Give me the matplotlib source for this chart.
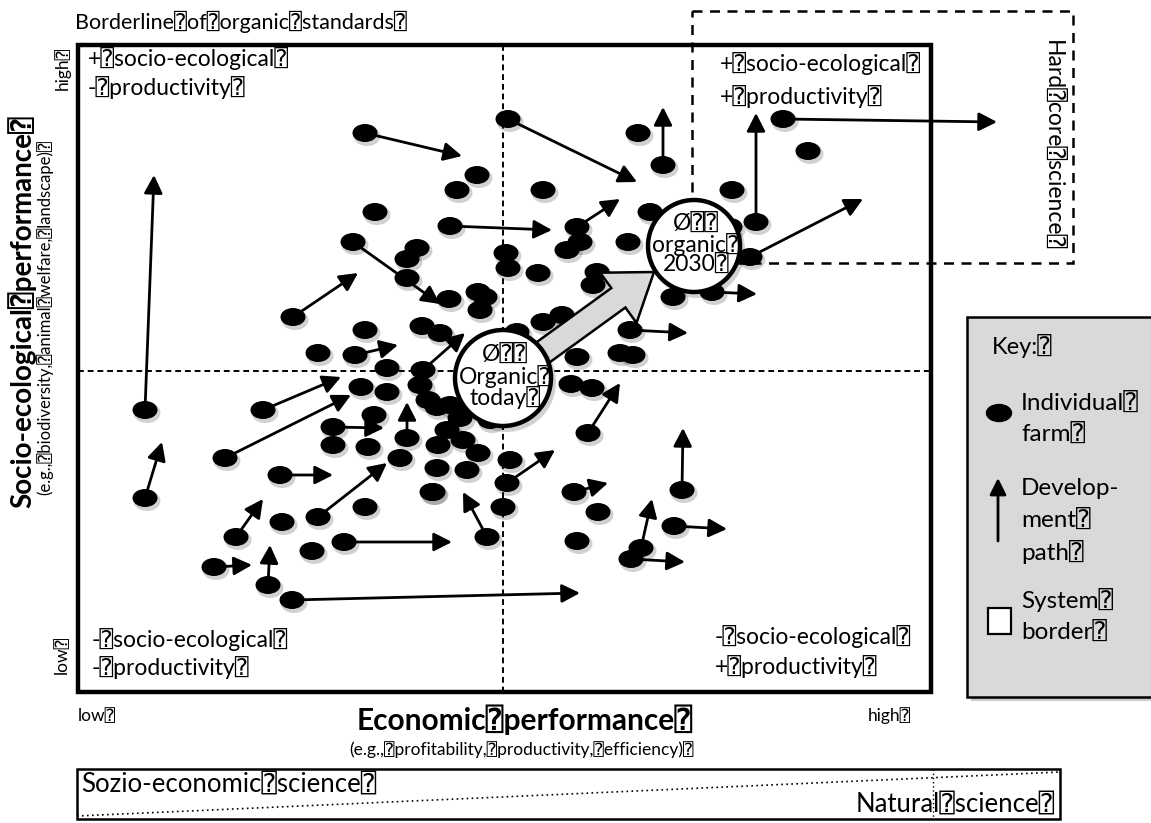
import matplotlib
matplotlib.use('Agg')
import matplotlib.pyplot as plt
from matplotlib.patches import Ellipse, Circle, Rectangle, FancyArrow

plt.rcParams['font.family'] = ['Lato', 'DejaVu Sans', 'DejaVu Sans Mono']

# ---------------- data (positions, pixel units) -------------
farm_x = [365, 375, 353, 293, 477, 457, 450, 417, 407, 407, 449, 478, 485, 480, 506, 508,
          365, 318, 355, 422, 440, 387, 423, 361, 387,
          145, 145, 263, 225, 374, 333, 333, 368, 407, 420, 428, 437, 450, 460,
          447, 463, 438, 478, 400, 437, 467, 432, 280, 318, 365, 282, 236, 433, 312, 344,
          214, 268, 292, 487, 503, 507, 510, 460, 490,
          508, 638, 663, 543, 577, 580, 567, 628, 650, 538, 597, 593, 673, 712,
          543, 562, 517, 630, 620, 633, 577, 783, 808, 732, 756, 730, 750,
          571, 592, 588, 574, 598, 577, 682, 674, 641, 631]
farm_y = [133, 212, 242, 317, 175, 190, 226, 248, 259, 278, 299, 292, 297, 310, 253, 268,
          330, 353, 355, 326, 333, 368, 370, 387, 392,
          410, 498, 410, 458, 415, 427, 445, 447, 438, 385, 400, 407, 405, 408,
          430, 440, 445, 453, 458, 468, 470, 492, 475, 517, 507, 522, 537, 492, 551, 542,
          567, 585, 600, 537, 507, 483, 460, 418, 420,
          119, 133, 165, 190, 227, 242, 250, 242, 212, 273, 272, 285, 297, 292,
          322, 315, 332, 330, 353, 355, 357, 119, 151, 190, 222, 227, 257,
          384, 388, 433, 492, 512, 541, 490, 526, 548, 559]

path_x0 = [365, 353, 293, 450, 355, 423, 145, 145, 263, 225, 333, 407, 280, 318, 236, 344,
           214, 268, 292, 487, 507, 508, 663, 577, 712, 630, 783, 756, 750,
           588, 574, 682, 674, 641, 631]
path_y0 = [133, 242, 317, 226, 355, 370, 410, 498, 410, 458, 427, 438, 475, 517, 537, 542,
           567, 585, 600, 537, 483, 119, 165, 227, 292, 330, 119, 222, 257,
           433, 492, 490, 526, 548, 559]
path_x1 = [462, 440, 358, 552, 398, 465, 154, 162, 341, 351, 384, 407, 333, 387, 263, 452,
           252, 270, 580, 463, 555, 637, 663, 620, 757, 688, 997, 756, 863,
           620, 608, 683, 727, 652, 685]
path_y1 = [156, 304, 273, 230, 345, 333, 175, 442, 377, 395, 428, 402, 475, 463, 499, 542,
           565, 545, 593, 492, 450, 182, 107, 199, 294, 333, 122, 113, 199,
           383, 483, 428, 529, 499, 562]

# ---------------- figure ----------------
W, H = 1151, 823
fig = plt.figure(figsize=(W / 100, H / 100), dpi=100)
ax = fig.add_axes([0, 0, 1, 1])
ax.set_xlim(0, W)
ax.set_ylim(H, 0)
ax.axis('off')

BOX = dict(left=78, right=931, top=45, bottom=692)
Q = '\u2370'

# main box
ax.add_patch(Rectangle((BOX['left'], BOX['top']), BOX['right'] - BOX['left'],
                       BOX['bottom'] - BOX['top'], fill=False, lw=3.2, ec='black', zorder=6))
ax.plot([503, 503], [BOX['top'], BOX['bottom']], ls=(0, (3, 2)), lw=1.4, color='black', zorder=1)
ax.plot([BOX['left'], BOX['right']], [371, 371], ls=(0, (3, 2)), lw=1.4, color='black', zorder=1)

# hard core science box
ax.add_patch(Rectangle((692, 11), 1073 - 692, 263 - 11, fill=False, lw=1.8,
                       ls=(0, (4, 3)), ec='black', zorder=1))
ax.text(1052, 145, f'Hard{Q}core{Q}science{Q}', rotation=-90, ha='center', va='center',
        fontsize=16.5)

# arrows (development paths)
for x0, y0, x1, y1 in zip(path_x0, path_y0, path_x1, path_y1):
    ax.annotate('', xy=(x1, y1), xytext=(x0, y0),
                arrowprops=dict(arrowstyle='-|>,head_length=0.55,head_width=0.28',
                                lw=2.0, color='black', shrinkA=0, shrinkB=0,
                                mutation_scale=20), zorder=2)

# farms
for x, y in zip(farm_x, farm_y):
    ax.add_patch(Ellipse((x + 2, y + 3), 27, 20, color='black', alpha=0.18, lw=0, zorder=3))
    ax.add_patch(Ellipse((x, y), 25, 18, color='black', lw=0, zorder=3.1))

# big arrow
ax.add_patch(FancyArrow(538, 356, 116, -84, width=24, head_width=62, head_length=44,
                        length_includes_head=True, fc='#d9d9d9', ec='black', lw=1.8, zorder=4))

# circles
for (cx, cy, r, label) in [(503, 378, 48, f'Ø{Q}{Q}\nOrganic{Q}\ntoday{Q}'),
                           (694, 246, 46, f'Ø{Q}{Q}\norganic{Q}\n2030{Q}')]:
    ax.add_patch(Circle((cx + 3, cy + 4), r + 2, color='black', alpha=0.18, lw=0, zorder=4.5))
    ax.add_patch(Circle((cx, cy), r, fc='white', ec='black', lw=3.2, zorder=5))
    ax.text(cx + 2, cy - 1, label, ha='center', va='center', multialignment='center',
            fontsize=16.5, linespacing=0.92, zorder=6)

# quadrant labels
qfs = 16.5
ax.text(88, 59, f'+{Q}socio-ecological{Q}', fontsize=qfs, va='center')
ax.text(88, 88, f'-{Q}productivity{Q}', fontsize=qfs, va='center')
ax.text(720, 64, f'+{Q}socio-ecological{Q}', fontsize=qfs, va='center')
ax.text(720, 97, f'+{Q}productivity{Q}', fontsize=qfs, va='center')
ax.text(92, 640, f'-{Q}socio-ecological{Q}', fontsize=qfs, va='center')
ax.text(92, 668, f'-{Q}productivity{Q}', fontsize=qfs, va='center')
ax.text(715, 637, f'-{Q}socio-ecological{Q}', fontsize=qfs, va='center')
ax.text(715, 667, f'+{Q}productivity{Q}', fontsize=qfs, va='center')

# titles / axes labels
ax.text(75, 22, f'Borderline{Q}of{Q}organic{Q}standards{Q}', fontsize=15.5, va='center')
ax.text(62, 68, f'high{Q}', rotation=90, fontsize=12.5, ha='center', va='center')
ax.text(62, 655, f'low{Q}', rotation=90, fontsize=12.5, ha='center', va='center')
ax.text(22, 312, f'Socio-ecological{Q}performance{Q}', rotation=90, fontsize=20,
        fontweight='bold', ha='center', va='center')
ax.text(45, 318, f'(e.g.,{Q}biodiversity,{Q}animal{Q}welfare,{Q}landscape){Q}', rotation=90,
        fontsize=12, ha='center', va='center')
ax.text(78, 716, f'low{Q}', fontsize=12.5, va='center')
ax.text(868, 716, f'high{Q}', fontsize=12.5, va='center')
ax.text(525, 720, f'Economic{Q}performance{Q}', fontsize=21.5, fontweight='bold',
        ha='center', va='center')
ax.text(522, 750, f'(e.g.,{Q}profitability,{Q}productivity,{Q}efficiency){Q}', fontsize=12.5,
        ha='center', va='center')

# bottom science box
BL, BR, BT, BB = 77, 1060, 769, 819
ax.add_patch(Rectangle((BL, BT), BR - BL, BB - BT, fill=False, lw=1.8, ec='black'))
ax.plot([BL, BR], [816, 772], ls=(0, (1, 2)), lw=1.2, color='black')
ax.plot([933, 933], [BT, BB], ls=(0, (1, 2)), lw=1.0, color='black')
ax.text(81, 784, f'Sozio-economic{Q}science{Q}', fontsize=18.5, va='center')
ax.text(1055, 804, f'Natural{Q}science{Q}', fontsize=18.5, va='center', ha='right')

# key box
ax.add_patch(Rectangle((971, 321), 200, 380, color='black', alpha=0.2, lw=0, zorder=1))
ax.add_patch(Rectangle((967, 317), 200, 380, fc='#d9d9d9', ec='black', lw=1.8, zorder=2))
ax.text(992, 346, f'Key:{Q}', fontsize=17, va='center', zorder=3)
ax.add_patch(Ellipse((999, 413), 25, 17, color='black', zorder=3))
ax.text(1021, 403, f'Individual{Q}', fontsize=17.5, va='center', zorder=3)
ax.text(1021, 434, f'farm{Q}', fontsize=17.5, va='center', zorder=3)
ax.annotate('', xy=(998, 478), xytext=(998, 541),
            arrowprops=dict(arrowstyle='-|>,head_length=0.5,head_width=0.25', lw=2.0,
                            color='black', shrinkA=0, shrinkB=0, mutation_scale=20), zorder=3)
ax.text(1021, 488, 'Develop-', fontsize=17.5, va='center', zorder=3)
ax.text(1021, 520, f'ment{Q}', fontsize=17.5, va='center', zorder=3)
ax.text(1021, 552, f'path{Q}', fontsize=17.5, va='center', zorder=3)
ax.add_patch(Rectangle((988, 608), 23, 26, fc='white', ec='black', lw=1.6, zorder=3))
ax.text(1021, 600, f'System{Q}', fontsize=17.5, va='center', zorder=3)
ax.text(1021, 632, f'border{Q}', fontsize=17.5, va='center', zorder=3)

fig.savefig('out.png', dpi=100)
